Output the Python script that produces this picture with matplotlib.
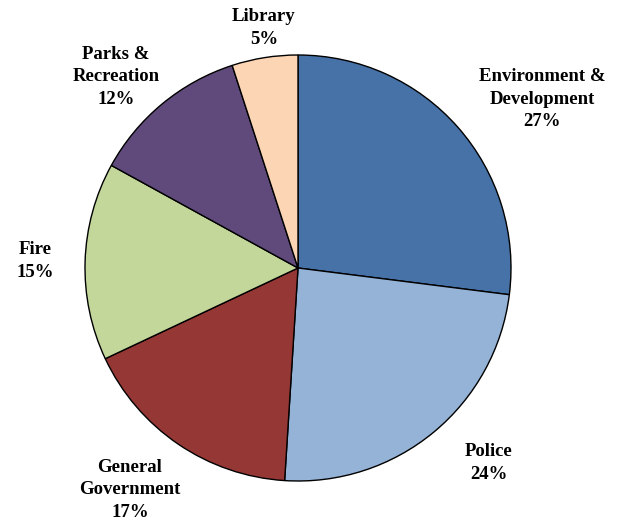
import matplotlib
matplotlib.use("Agg")
import matplotlib.pyplot as plt

categories = ["Environment &\nDevelopment", "Police", "General\nGovernment", "Fire", "Parks &\nRecreation", "Library"]
values = [27, 24, 17, 15, 12, 5]
colors = ["#4672A8", "#95B3D7", "#953735", "#C4D79B", "#604A7B", "#FCD5B5"]
# label anchor positions (in pie-radius units)
label_pos = [(1.146, 0.792), (0.897, -0.915), (-0.789, -1.042), (-1.235, 0.033), (-0.854, 0.898), (-0.160, 1.127)]

W, H = 624, 521
cx, cy, R = 298, 268, 213
fig = plt.figure(figsize=(W / 100, H / 100), dpi=100)
ax = fig.add_axes([(cx - R) / W, (H - cy - R) / H, 2 * R / W, 2 * R / H])
ax.pie(values, colors=colors, startangle=90, counterclock=False, radius=1,
       wedgeprops=dict(edgecolor="black", linewidth=1.0))
ax.set_xlim(-1, 1)
ax.set_ylim(-1, 1)
ax.set_aspect("equal")
ax.axis("off")

total = sum(values)
for cat, v, (x, y) in zip(categories, values, label_pos):
    ax.text(x, y, f"{cat}\n{round(100 * v / total)}%", ha="center", va="center",
            fontsize=13.5, fontweight="bold", family="Liberation Serif",
            linespacing=1.42, clip_on=False)

fig.savefig("out.png", dpi=100)
